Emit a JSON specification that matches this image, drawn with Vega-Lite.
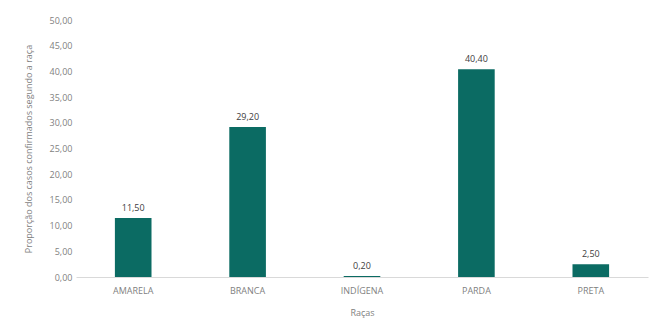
{
  "$schema": "https://vega.github.io/schema/vega-lite/v6.json",
  "autosize": "none",
  "width": 572,
  "height": 257,
  "padding": {"left": 76, "top": 20, "right": 12, "bottom": 52},
  "background": "white",
  "config": {
    "locale": {"number": {"decimal": ",", "thousands": ".", "grouping": [3], "currency": ["R$", ""]}},
    "view": {"stroke": null},
    "font": "Open Sans"
  },
  "data": {
    "values": [
      {"raca": "AMARELA", "valor": 11.5},
      {"raca": "BRANCA", "valor": 29.2},
      {"raca": "INDÍGENA", "valor": 0.2},
      {"raca": "PARDA", "valor": 40.4},
      {"raca": "PRETA", "valor": 2.5}
    ]
  },
  "encoding": {
    "x": {
      "field": "raca", "type": "nominal", "sort": null,
      "scale": {"paddingInner": 0.68, "paddingOuter": 0.34},
      "axis": {
        "title": "Raças", "titleFontSize": 9, "titleFontWeight": "normal", "titleColor": "#7f7f7f", "titlePadding": 13,
        "labelAngle": 0, "labelFontSize": 9, "labelColor": "#7f7f7f", "labelPadding": 9,
        "ticks": false, "domainColor": "#d9d9d9"
      }
    },
    "y": {
      "field": "valor", "type": "quantitative",
      "scale": {"domain": [0, 50]},
      "axis": {
        "title": "Proporção dos casos confirmados segundo a raça", "titleFontSize": 9, "titleFontWeight": "normal", "titleColor": "#7f7f7f", "titlePadding": 16,
        "values": [0, 5, 10, 15, 20, 25, 30, 35, 40, 45, 50], "format": ".2f",
        "labelFontSize": 9, "labelColor": "#7f7f7f", "labelPadding": 4,
        "ticks": false, "domain": false, "grid": false
      }
    }
  },
  "layer": [
    {"mark": {"type": "bar", "color": "#0b6b63"}},
    {"mark": {"type": "text", "dy": -10, "fontSize": 9, "color": "#404040"}, "encoding": {"text": {"field": "valor", "type": "quantitative", "format": ".2f"}}}
  ]
}
